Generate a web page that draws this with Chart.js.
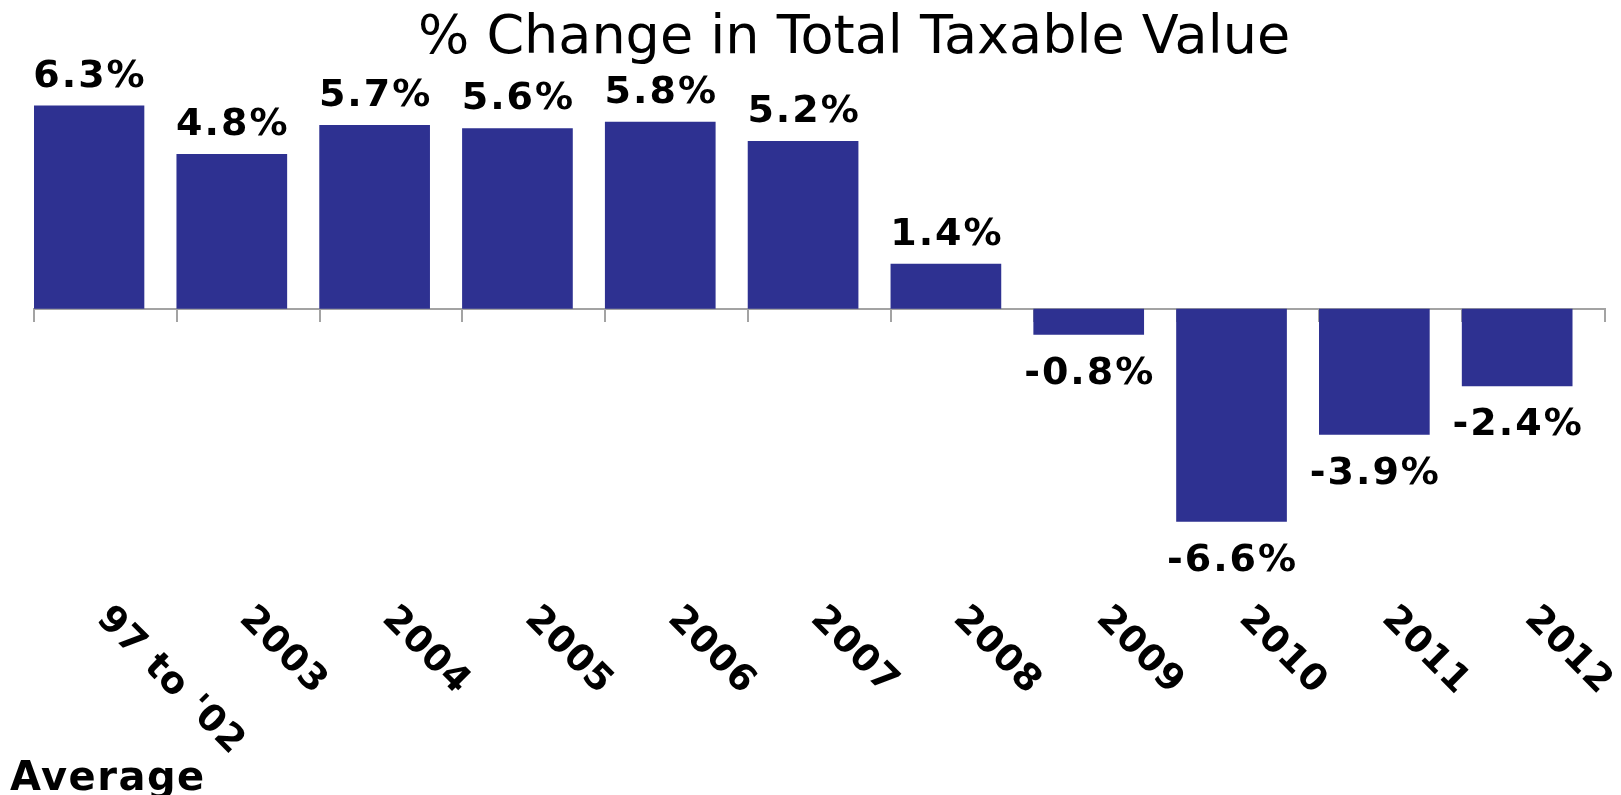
<!DOCTYPE html>
<html>
<head>
<meta charset="utf-8">
<script src="https://cdn.jsdelivr.net/npm/chart.js@4/dist/chart.umd.min.js"></script>
<style>
    html, body { margin: 0; padding: 0; background: #fff; }
    #conteneur { width: 1621px; height: 795px; }
</style>
</head>
<body>
<div id="conteneur"><canvas id="barres1"></canvas></div>
<script>
// Données du graphique
const titre = '% Change in Total Taxable Value';
const annees = ["97 to '02", '2003', '2004', '2005', '2006', '2007', '2008', '2009', '2010', '2011', '2012'];
const variations = [6.3, 4.8, 5.7, 5.6, 5.8, 5.2, 1.4, -0.8, -6.6, -3.9, -2.4];
const noteMoyenne = 'Average';

const couleurBarre = '#2E3191';
const couleurAxe = '#a3a3a3';
const police = '"DejaVu Sans", Verdana, sans-serif';

// Les barres sont collées à gauche de chaque catégorie : axe linéaire décalé
const decalage = 0.385;

// Plugin pour dessiner le titre, les valeurs et les étiquettes inclinées
const etiquettes = {
    id: 'etiquettes',
    afterDraw(chart) {
        const ctx = chart.ctx;
        const axeCat = chart.scales.cat;
        ctx.save();
        ctx.fillStyle = '#000';

        // Titre
        ctx.font = '54px ' + police;
        ctx.textAlign = 'center';
        ctx.textBaseline = 'alphabetic';
        ctx.fillText(titre, 854, 53);

        // Valeurs au-dessus / en dessous des barres
        ctx.font = 'bold 38px ' + police;
        ctx.letterSpacing = '2px';
        chart.getDatasetMeta(0).data.forEach((barre, i) => {
            const v = variations[i];
            const texte = v.toFixed(1) + '%';
            const y = v >= 0 ? barre.y - 19 : barre.y + 49;
            ctx.fillText(texte, barre.x + 1, y);
        });

        // Étiquettes des catégories, inclinées à 45°
        ctx.font = 'bold 37px ' + police;
        ctx.letterSpacing = '1px';
        ctx.textAlign = 'left';
        annees.forEach((annee, i) => {
            const x = axeCat.getPixelForTick(i) - 10;
            ctx.save();
            ctx.translate(x, 620);
            ctx.rotate(Math.PI / 4);
            ctx.fillText(annee, 0, 0);
            ctx.restore();
        });

        // Deuxième ligne de la première catégorie
        ctx.font = 'bold 40px ' + police;
        ctx.letterSpacing = '1.5px';
        ctx.fillText(noteMoyenne, 10, 790);
        ctx.restore();
    }
};

const ctx = document.getElementById('barres1').getContext('2d');
new Chart(ctx, {
    type: 'bar',
    data: {
        labels: annees,
        datasets: [{
            label: titre,
            data: variations.map((v, i) => ({ x: i, y: v })),
            backgroundColor: couleurBarre,
            barPercentage: 0.775,
            categoryPercentage: 1.0,
        }]
    },
    options: {
        responsive: true,
        maintainAspectRatio: false,
        animation: false,
        layout: {
            padding: { top: 83, bottom: 228, left: 34, right: 16 }
        },
        plugins: {
            legend: { display: false },
            title: { display: false },
            tooltip: { enabled: false }
        },
        scales: {
            x: {
                type: 'linear',
                display: false,
                offset: false,
                grid: { offset: false },
                ticks: { stepSize: 1, includeBounds: false },
                min: -decalage,
                max: annees.length - decalage
            },
            cat: {
                type: 'category',
                axis: 'x',
                labels: annees,
                position: { y: 0 }, // l'axe passe par zéro
                offset: true,
                grid: {
                    offset: true,
                    drawOnChartArea: false,
                    drawTicks: true,
                    tickLength: 12,
                    color: couleurAxe,
                    lineWidth: 2
                },
                border: { display: true, color: couleurAxe, width: 2 },
                ticks: { display: false }
            },
            y: {
                display: false,
                min: -8,
                max: 7
            }
        }
    },
    plugins: [etiquettes]
});
</script>
</body>
</html>
